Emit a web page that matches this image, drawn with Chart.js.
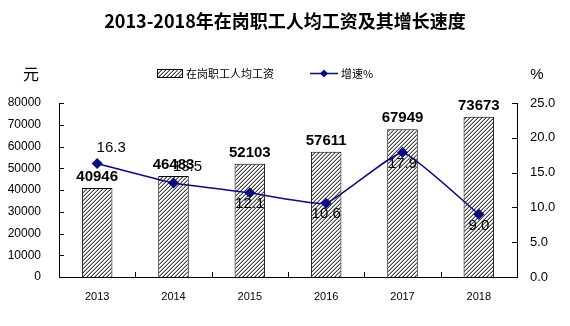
<!DOCTYPE html>
<html>
<head>
<meta charset="utf-8">
<script src="https://cdn.jsdelivr.net/npm/chart.js@4"></script>
<style>
  html, body { margin: 0; padding: 0; background: #fff; }
  #wrap { width: 570px; height: 326px; }
</style>
</head>
<body>
<div id="wrap"><canvas id="chart" width="570" height="326"></canvas></div>
<script>
'use strict';

/// data
const years = ['2013', '2014', '2015', '2016', '2017', '2018'];
const wages = [40946, 46483, 52103, 57611, 67949, 73673];
const growth = [16.3, 13.5, 12.1, 10.6, 17.9, 9.0];

const titleText = '2013-2018年在岗职工人均工资及其增长速度';
const wageLabel = '在岗职工人均工资';
const growthLabel = '增速%';

/// styles
const FONT = "'Liberation Sans', Arial, 'Noto Sans CJK SC', sans-serif";
const CJK = "'Noto Sans CJK SC', 'Liberation Sans', sans-serif";
const navy = '#0b0b80';

// where each growth label sits relative to its point
const growthPlace = ['upRight', 'upRight', 'below', 'below', 'below', 'below'];
const placeOffset = {
  upRight: [14, -16],
  below: [0, 11],
};

/// hatch pattern for bars
const makeHatch = function () {
  const c = document.createElement('canvas');
  c.width = 4;
  c.height = 4;
  const g = c.getContext('2d');
  const img = g.createImageData(4, 4);
  for (let y = 0; y < 4; y++) {
    for (let x = 0; x < 4; x++) {
      const k = (x + y) % 4;
      const v = k === 3 ? 70 : k === 2 ? 170 : 255;
      const i = (y * 4 + x) * 4;
      img.data[i] = v;
      img.data[i + 1] = v;
      img.data[i + 2] = v;
      img.data[i + 3] = 255;
    }
  }
  g.putImageData(img, 0, 0);
  return document.getElementById('chart').getContext('2d').createPattern(c, 'repeat');
};
const hatch = makeHatch();

/// inner tick marks on the three axes
const innerTicks = {
  id: 'innerTicks',
  afterDraw(chart) {
    const ctx = chart.ctx;
    const { x, y, y1 } = chart.scales;
    const area = chart.chartArea;
    ctx.save();
    ctx.strokeStyle = '#000';
    ctx.lineWidth = 1;
    ctx.beginPath();
    y.ticks.forEach((t) => {
      const py = Math.round(y.getPixelForValue(t.value)) + 0.5;
      ctx.moveTo(area.left, py);
      ctx.lineTo(area.left + 5, py);
    });
    y1.ticks.forEach((t) => {
      const py = Math.round(y1.getPixelForValue(t.value)) + 0.5;
      ctx.moveTo(area.right, py);
      ctx.lineTo(area.right - 5, py);
    });
    const step = (area.right - area.left) / years.length;
    for (let i = 1; i < years.length; i++) {
      const px = Math.round(area.left + step * i) + 0.5;
      ctx.moveTo(px, area.bottom);
      ctx.lineTo(px, area.bottom - 5);
    }
    ctx.stroke();
    ctx.restore();
  },
};

/// title, legend, unit labels and value labels
const decor = {
  id: 'decor',
  afterDatasetsDraw(chart) {
    const ctx = chart.ctx;
    ctx.save();

    // bar values
    const barMeta = chart.getDatasetMeta(0);
    ctx.fillStyle = '#000';
    ctx.font = 'bold 15px ' + FONT;
    ctx.textAlign = 'center';
    ctx.textBaseline = 'middle';
    barMeta.data.forEach((bar, i) => {
      ctx.fillText(String(wages[i]), bar.x, bar.y - 11);
    });

    // growth values
    const lineMeta = chart.getDatasetMeta(1);
    ctx.font = '15px ' + FONT;
    lineMeta.data.forEach((pt, i) => {
      const off = placeOffset[growthPlace[i]];
      ctx.fillText(growth[i].toFixed(1), pt.x + off[0], pt.y + off[1]);
    });

    // title
    ctx.font = 'bold 18px ' + CJK;
    ctx.fillText(titleText, 285, 21);

    // units
    ctx.font = '16px ' + CJK;
    ctx.fillText('元', 31, 74);
    ctx.font = '15px ' + FONT;
    ctx.fillText('%', 537, 75);

    // legend: bars
    ctx.fillStyle = hatch;
    ctx.fillRect(157, 69, 25, 8);
    ctx.strokeStyle = '#000';
    ctx.lineWidth = 1;
    ctx.strokeRect(157.5, 69.5, 25, 8);
    ctx.fillStyle = '#000';
    ctx.textAlign = 'left';
    ctx.font = '11px ' + CJK;
    ctx.fillText(wageLabel, 186, 73.5);

    // legend: line
    ctx.strokeStyle = navy;
    ctx.lineWidth = 1.5;
    ctx.beginPath();
    ctx.moveTo(310, 73.5);
    ctx.lineTo(338, 73.5);
    ctx.stroke();
    ctx.fillStyle = navy;
    ctx.beginPath();
    ctx.moveTo(324, 69.5);
    ctx.lineTo(328, 73.5);
    ctx.lineTo(324, 77.5);
    ctx.lineTo(320, 73.5);
    ctx.closePath();
    ctx.fill();
    ctx.fillStyle = '#000';
    ctx.fillText(growthLabel, 341, 73.5);

    ctx.restore();
  },
};

/// chart
new Chart(document.getElementById('chart'), {
  type: 'bar',
  data: {
    labels: years,
    datasets: [
      {
        label: wageLabel,
        data: wages,
        backgroundColor: hatch,
        borderColor: '#000',
        borderWidth: 1,
        categoryPercentage: 1,
        barPercentage: 0.4,
        yAxisID: 'y',
        order: 1,
      },
      {
        type: 'line',
        label: growthLabel,
        data: growth,
        borderColor: navy,
        borderWidth: 1.5,
        backgroundColor: navy,
        pointStyle: 'rectRot',
        pointRadius: 4.5,
        pointBackgroundColor: navy,
        pointBorderColor: navy,
        tension: 0.12,
        yAxisID: 'y1',
        order: 0,
      },
    ],
  },
  options: {
    responsive: false,
    animation: false,
    events: [],
    layout: { padding: { top: 103, left: 0, right: 0, bottom: 0 } },
    plugins: {
      legend: { display: false },
      title: { display: false },
      tooltip: { enabled: false },
    },
    scales: {
      x: {
        grid: { display: false },
        border: { color: '#000', width: 1 },
        ticks: { color: '#000', font: { family: FONT, size: 11 }, padding: 5 },
        afterFit(scale) {
          scale.height = 49;
        },
      },
      y: {
        position: 'left',
        min: 0,
        max: 80000,
        ticks: {
          stepSize: 10000,
          color: '#000',
          font: { family: FONT, size: 12 },
          padding: 10,
          callback: (v) => String(v),
        },
        grid: { display: false },
        border: { color: '#000', width: 1 },
        afterFit(scale) {
          scale.width = 59;
        },
      },
      y1: {
        position: 'right',
        min: 0,
        max: 25,
        ticks: {
          stepSize: 5,
          color: '#000',
          font: { family: FONT, size: 13 },
          padding: 5,
          callback: (v) => Number(v).toFixed(1),
        },
        grid: { display: false },
        border: { color: '#000', width: 1 },
        afterFit(scale) {
          scale.width = 53;
        },
      },
    },
  },
  plugins: [decor, innerTicks],
});
</script>
</body>
</html>
